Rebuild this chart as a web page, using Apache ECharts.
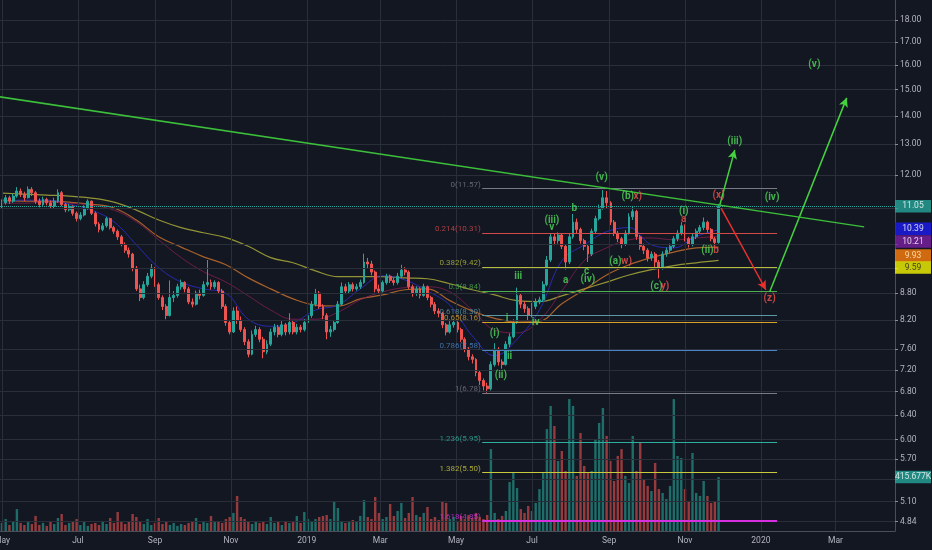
<!DOCTYPE html>
<html><head><meta charset="utf-8">
<script src="https://cdn.jsdelivr.net/npm/echarts@6/dist/echarts.min.js"></script>
<style>html,body{margin:0;padding:0;background:#131722;}#c{width:932px;height:550px;}</style>
</head><body><div id="c"></div>
<script>
// ---------- DATA ----------
const startDate = '2018-05-01';
const stepDays = 3;
// [open, close, low, high]
const ohlc = [
[11.05,11.15,10.98,11.25],[11.15,11.30,11.10,11.38],[11.30,11.20,11.12,11.36],[11.20,11.35,11.15,11.42],[11.35,11.50,11.30,11.62],
[11.50,11.40,11.32,11.58],[11.40,11.30,11.20,11.48],[11.30,11.55,11.28,11.64],[11.55,11.45,11.35,11.62],[11.45,11.20,11.12,11.50],
[11.20,11.10,11.02,11.28],[11.10,11.25,11.05,11.33],[11.25,11.15,11.08,11.30],[11.15,11.05,10.98,11.22],[11.05,11.20,11.00,11.30],
[11.20,11.45,11.15,11.55],[11.45,11.10,11.05,11.50],[11.10,10.95,10.88,11.15],[10.95,11.05,10.90,11.12],[11.05,10.85,10.78,11.08],
[10.85,10.70,10.62,10.90],[10.70,10.80,10.65,10.88],[10.80,11.00,10.76,11.08],[11.00,11.20,10.95,11.25],[11.20,10.85,10.80,11.22],
[10.85,10.55,10.48,10.90],[10.55,10.40,10.32,10.60],[10.40,10.50,10.35,10.58],[10.50,10.70,10.45,10.75],[10.70,10.45,10.40,10.72],
[10.45,10.35,10.28,10.50],[10.35,10.20,10.12,10.40],[10.20,10.00,9.95,10.25],[10.00,9.85,9.78,10.05],[9.85,9.75,9.66,9.92],
[9.75,9.40,9.32,9.78],[9.40,8.90,8.85,9.45],[8.90,8.70,8.62,9.00],[8.70,9.00,8.66,9.08],[9.00,9.20,8.95,9.28],
[9.20,9.40,9.15,9.50],[9.40,9.00,8.95,9.42],[9.00,8.70,8.65,9.05],[8.70,8.50,8.42,8.75],[8.50,8.30,8.22,8.55],
[8.30,8.70,8.28,9.10],[8.70,8.75,8.60,8.85],[8.75,8.95,8.70,9.02],[8.95,9.05,8.88,9.12],[9.05,8.90,8.82,9.08],
[8.90,8.60,8.55,8.95],[8.60,8.55,8.48,8.68],[8.55,8.80,8.52,8.86],[8.80,8.75,8.66,8.88],[8.75,9.00,8.72,9.08],
[9.00,9.05,8.95,9.60],[9.05,8.95,8.88,9.12],[8.95,9.05,8.90,9.10],[9.05,8.85,8.78,9.08],[8.85,8.50,8.45,8.90],
[8.50,8.15,8.08,8.55],[8.15,7.95,7.90,8.20],[7.95,8.40,7.93,8.48],[8.40,8.20,8.12,8.50],[8.20,8.00,7.95,8.28],
[8.00,7.75,7.68,8.05],[7.75,7.50,7.44,7.80],[7.50,7.90,7.48,7.98],[7.90,8.00,7.85,8.08],[8.00,7.80,7.74,8.05],
[7.80,7.55,7.42,7.85],[7.55,7.70,7.50,7.78],[7.70,7.95,7.66,8.02],[7.95,8.05,7.88,8.12],[8.05,7.90,7.84,8.10],
[7.90,8.10,7.86,8.18],[8.10,7.95,7.88,8.14],[7.95,8.15,7.90,8.35],[8.15,7.95,7.90,8.20],[7.95,8.05,7.90,8.12],
[8.05,8.00,7.94,8.10],[8.00,8.15,7.96,8.22],[8.15,8.30,8.10,8.38],[8.30,8.55,8.25,8.62],[8.55,8.80,8.50,8.90],
[8.80,8.50,8.45,8.85],[8.50,8.30,8.22,8.55],[8.30,7.95,7.80,8.35],[7.95,8.00,7.85,8.08],[8.00,8.15,7.96,8.20],
[8.15,8.55,8.12,8.62],[8.55,8.95,8.52,9.05],[8.95,8.85,8.78,9.02],[8.85,9.00,8.80,9.06],[9.00,8.90,8.84,9.05],
[8.90,8.95,8.86,9.02],[8.95,9.05,8.90,9.12],[9.05,9.55,9.02,9.76],[9.55,9.50,9.38,9.65],[9.50,9.30,9.22,9.58],
[9.30,8.90,8.82,9.34],[8.90,8.85,8.78,9.00],[8.85,9.05,8.82,9.10],[9.05,9.20,9.00,9.26],[9.20,9.10,9.04,9.24],
[9.10,9.05,8.98,9.16],[9.05,9.20,9.00,9.28],[9.20,9.35,9.15,9.48],[9.35,9.30,9.22,9.42],[9.30,8.95,8.90,9.34],
[8.95,8.80,8.72,9.00],[8.80,8.90,8.74,8.96],[8.90,8.75,8.68,8.94],[8.75,8.95,8.72,9.02],[8.95,8.70,8.64,8.98],
[8.70,8.55,8.48,8.74],[8.55,8.40,8.33,8.60],[8.40,8.35,8.26,8.46],[8.35,8.10,8.03,8.38],[8.10,7.95,7.88,8.14],
[7.95,8.10,7.92,8.18],[8.10,8.15,8.04,8.22],[8.15,8.00,7.94,8.18],[8.00,7.80,7.74,8.04],[7.80,7.60,7.54,7.84],
[7.60,7.45,7.38,7.64],[7.45,7.40,7.32,7.50],[7.40,7.15,7.08,7.42],[7.15,7.00,6.92,7.18],[7.00,6.90,6.82,7.04],
[6.90,6.85,6.78,6.96],[6.85,7.30,6.82,7.36],[7.30,7.60,7.26,7.72],[7.60,7.35,7.28,7.64],[7.35,7.30,7.22,7.40],
[7.30,7.70,7.28,7.76],[7.70,7.85,7.64,7.92],[7.85,8.15,7.82,8.22],[8.15,8.75,8.12,8.93],[8.75,8.55,8.46,8.80],
[8.55,8.45,8.36,8.62],[8.45,8.30,8.20,8.50],[8.30,8.50,8.26,8.58],[8.50,8.60,8.44,8.68],[8.60,8.65,8.55,8.72],
[8.65,9.00,8.60,9.08],[9.00,9.60,8.96,9.70],[9.60,10.20,9.55,10.30],[10.20,10.10,9.98,10.28],[10.10,10.25,10.02,10.32],
[10.25,9.95,9.88,10.28],[9.95,9.55,9.36,10.00],[9.55,10.20,9.50,10.28],[10.20,10.60,10.15,10.83],[10.60,10.40,10.30,10.70],
[10.40,10.10,10.02,10.45],[10.10,9.95,9.85,10.15],[9.95,9.75,9.55,10.00],[9.75,10.35,9.70,10.42],[10.35,10.70,10.30,10.78],
[10.70,11.00,10.65,11.10],[11.00,11.30,10.95,11.53],[11.30,11.15,11.00,11.50],[11.15,10.60,10.52,11.20],[10.60,10.30,10.22,10.66],
[10.30,10.15,10.06,10.36],[10.15,10.00,9.90,10.20],[10.00,10.30,9.96,10.38],[10.30,10.75,10.26,10.85],[10.75,10.90,10.66,11.06],
[10.90,10.20,10.12,10.95],[10.20,9.95,9.86,10.25],[9.95,9.85,9.75,10.02],[9.85,9.65,9.56,9.90],[9.65,9.75,9.58,9.82],
[9.75,9.55,9.40,9.80],[9.55,9.40,9.15,9.60],[9.40,9.75,9.36,9.82],[9.75,9.85,9.68,9.92],[9.85,9.95,9.78,10.02],
[9.95,10.15,9.90,10.22],[10.15,10.30,10.08,10.38],[10.30,10.50,10.24,10.60],[10.50,10.15,10.08,10.54],[10.15,10.00,9.92,10.20],
[10.00,10.20,9.95,10.28],[10.20,10.35,10.14,10.42],[10.35,10.45,10.28,10.52],[10.45,10.60,10.38,10.73],[10.60,10.40,10.32,10.64],
[10.40,10.15,10.08,10.44],[10.15,10.05,9.98,10.20],[10.05,11.05,10.02,11.12]
];
// volume in thousands, one per candle
const volumeK = [
62,92,46,77,169,62,46,69,54,116,
46,62,39,69,54,100,131,46,62,77,
92,46,69,39,54,62,46,69,54,100,
62,146,69,54,77,131,108,69,54,92,
46,62,100,54,69,46,62,39,54,46,
62,69,100,54,69,62,116,69,77,62,
92,108,139,270,108,92,69,54,77,62,
69,54,108,62,69,46,77,62,69,116,
62,146,92,77,92,108,116,123,92,231,
177,77,62,69,85,69,116,239,108,92,
262,139,92,108,208,116,154,216,100,139,
262,123,108,139,185,92,108,85,231,216,
92,108,77,116,92,123,100,139,108,92,
123,631,139,92,116,154,377,454,331,169,
139,193,154,216,323,447,785,963,809,539,
616,462,1016,963,424,755,501,447,462,708,
832,947,732,539,385,578,631,424,370,732,
462,678,400,347,308,524,323,293,246,347,
1016,578,562,323,231,601,293,270,385,270,
216,231,415.677
];
// moving averages sampled every maStep candles
const maStep = 6;
const ma20  = [11.20,11.23,11.23,11.11,10.94,10.61,9.99,9.41,9.06,8.90,8.80,8.22,8.07,8.14,8.42,8.53,8.90,9.21,9.11,8.85,8.53,7.87,7.47,7.80,8.42,9.58,9.99,10.34,10.45,9.99,9.91,10.21,10.39];
const ma50  = [11.14,11.14,11.17,11.14,11.08,10.94,10.61,10.12,9.66,9.31,9.06,8.74,8.42,8.22,8.22,8.37,8.65,8.83,8.93,8.95,8.83,8.42,7.99,7.93,8.20,8.85,9.58,9.91,10.12,10.17,10.12,10.17,10.21];
const ma100 = [11.23,11.20,11.20,11.17,11.11,11.00,10.66,10.20,9.93,9.68,9.48,9.16,8.90,8.67,8.53,8.51,8.67,8.76,8.88,8.90,8.63,8.40,8.24,8.16,8.18,8.56,8.88,9.23,9.48,9.66,9.80,9.91,9.93];
const ma200 = [11.44,11.41,11.38,11.35,11.29,11.17,10.94,10.66,10.45,10.31,10.18,9.95,9.66,9.53,9.33,9.19,9.19,9.19,9.16,9.14,9.02,8.88,8.76,8.63,8.61,8.74,8.90,9.06,9.23,9.36,9.46,9.53,9.59];
// axis ticks
const priceTicks = [18,17,16,15,14,13,12,11,10,9.4,8.8,8.2,7.6,7.2,6.8,6.4,6,5.7,5.4,5.1,4.84];
const hiddenTickLabels = [11,10,9.4,5.4];
const monthTicks = ['2018-05-01','2018-07-01','2018-09-01','2018-11-01','2019-01-01','2019-03-01','2019-05-01','2019-07-01','2019-09-01','2019-11-01','2020-01-01','2020-03-01'];
// fibonacci retracement
const fibLevels = ['0','0.214','0.382','0.5','0.618','0.65','0.786','1','1.236','1.382','1.618'];
const fibPrices = [11.57,10.31,9.42,8.84,8.30,8.16,7.58,6.78,5.95,5.50,4.85];
const fibRange = ['2019-05-22','2020-01-14'];
// drawings
const trendLine = [['2018-04-25',14.75],['2020-03-24',10.47]];
const arrows = [
  [['2019-11-29',11.09],['2019-12-11',12.81]],
  [['2019-11-30',11.00],['2020-01-05',8.88]],
  [['2020-01-08',8.83],['2020-03-10',14.68]]
];
const greenLabels = [
  ['2019-08-26',11.93,'(v)'],['2019-09-16',11.35,'(b)'],['2019-08-04',11.00,'b'],
  ['2019-07-17',10.66,'(iii)'],['2019-07-17',10.45,'v'],['2019-10-31',10.90,'(i)'],
  ['2019-11-19',9.83,'(ii)'],['2019-09-06',9.55,'(a)'],['2019-07-28',9.09,'a'],
  ['2019-08-14',9.31,'c'],['2019-08-15',9.11,'(iv)'],['2019-10-09',8.95,'(c)'],
  ['2019-06-20',9.19,'iii'],['2019-06-11',8.23,'i'],['2019-07-04',8.14,'iv'],
  ['2019-06-01',7.91,'(i)'],['2019-06-13',7.45,'ii'],['2019-06-06',7.09,'(ii)'],
  ['2019-12-11',13.11,'(iii)'],['2020-01-10',11.32,'(iv)'],['2020-02-13',16.00,'(v)']
];
const redLabels = [
  ['2019-09-24',11.35,'x)'],['2019-11-28',11.38,'(x)'],['2019-10-31',10.68,'a'],
  ['2019-11-26',9.83,'b'],['2019-09-15',9.55,'w)'],['2019-10-16',8.95,'y)'],['2020-01-08',8.69,'(z)']
];
const priceTags = [11.05,10.39,10.21,9.93,9.59];
const volumeTag = 415.677;

// ---------- STYLE ----------
const FONT = 'Roboto, "Noto Sans", sans-serif';
const UP = '#26a69a', DN = '#ef5350';
const GREEN = '#4fd95a', RED = '#f0524d';
const fibColors = ['#787b86','#d24a4a','#b7bd3c','#4caf50','#5b98a6','#d6a22a','#4a84c4','#787b86','#2eae9e','#c9c93c','#d52fe0'];
const tagBg = ['#26a69a','#1c1cf0','#7b1fa2','#ff7f0e','#f5f500'];
const tagFg = ['#ffffff','#ffffff','#ffffff','#fff3c0','#222222'];
const tagDy = [0,-1,5,8.5,7];
const arrowColors = ['#45d33f','#e8312e','#45d33f'];
const MONTHS = ['Jan','Feb','Mar','Apr','May','Jun','Jul','Aug','Sep','Oct','Nov','Dec'];

const DAY = 86400000;
const t = s => Date.parse(s);
const t0 = t(startDate);
const candleTime = i => t0 + i * stepDays * DAY;
const xMin = Date.parse('2018-04-29T10:00:00Z');
const xMax = Date.parse('2020-04-17T19:00:00Z');

const candleData = ohlc.map((r,i)=>[candleTime(i), r[0], r[1], r[2], r[3]]);
const volData = volumeK.map((v,i)=>({value:[candleTime(i), v],
  itemStyle:{color: ohlc[i][1] >= ohlc[i][0] ? 'rgba(38,166,154,0.6)' : 'rgba(239,83,80,0.6)'}}));
const maData = arr => arr.map((v,k)=>[candleTime(k*maStep), v]);
const maSeries = (name, arr, color, w) => ({type:'line', name, data: maData(arr), smooth:0.4, showSymbol:false, silent:true,
  lineStyle:{color, width:w}, z:3});

const gridLineData = priceTicks.map(v=>({yAxis:v})).concat(monthTicks.map(d=>({xAxis:t(d)})));

const fibLineData = fibPrices.map((p,k)=>[
  {coord:[t(fibRange[0]), p], lineStyle:{color:fibColors[k], width: k===10?2:1, type:'solid'}},
  {coord:[t(fibRange[1]), p]}
]);
const fibLabelData = fibPrices.map((p,k)=>({value:[t(fibRange[0]), p], name: fibLevels[k]+'('+p.toFixed(2)+')',
  label:{color:fibColors[k]}}));

const arrowData = arrows.map((a,k)=>[
  {coord:[t(a[0][0]), a[0][1]], symbol:'none', lineStyle:{color:arrowColors[k], width:1.5, type:'solid'}},
  {coord:[t(a[1][0]), a[1][1]], symbol:'arrow', symbolSize:[7,9], itemStyle:{color:arrowColors[k]}}
]);

const labelSeries = (arr, color) => ({type:'scatter', silent:true, symbolSize:1, itemStyle:{color:'rgba(0,0,0,0)'}, z:8, clip:false,
  data: arr.map(a=>({value:[t(a[0]), a[1]], name:a[2]})),
  label:{show:true, position:'inside', formatter:'{b}', color, fontSize:10, fontWeight:'bold', fontFamily:FONT}});

const tagData = priceTags.map((v,k)=>({value:[xMax, v], symbolOffset:[18, tagDy[k]], itemStyle:{color:tagBg[k]},
  label:{show:true, position:'inside', formatter: v.toFixed(2), color: tagFg[k], fontSize:8.5, fontFamily:FONT}}));

const chart = echarts.init(document.getElementById('c'), null, {renderer:'canvas', width:932, height:550});
chart.setOption({
  backgroundColor:'#131722',
  animation:false,
  textStyle:{fontFamily:FONT},
  grid:{left:0, right:37, top:0, bottom:19, containLabel:false, outerBoundsMode:'none'},
  xAxis:{type:'value', min:xMin, max:xMax, splitLine:{show:false},
    axisLine:{show:true, lineStyle:{color:'#4a4e59'}}, axisTick:{show:false},
    axisLabel:{customValues: monthTicks.map(t), color:'#b2b5be', fontSize:8.5, margin:5, fontFamily:FONT,
      formatter: v => { const d = new Date(v); return d.getUTCMonth()===0 ? String(d.getUTCFullYear()) : MONTHS[d.getUTCMonth()]; }}},
  yAxis:[
    {type:'log', logBase:10, min:4.72, max:18.97, position:'right', splitLine:{show:false},
      axisLine:{show:true, lineStyle:{color:'#4a4e59'}},
      axisTick:{show:true, length:3, inside:false, customValues: priceTicks, lineStyle:{color:'#8a8d96'}},
      axisLabel:{customValues: priceTicks, color:'#b2b5be', fontSize:8.5, margin:5, fontFamily:FONT,
        formatter: v => hiddenTickLabels.some(h=>Math.abs(h-v)<1e-6) ? '' : Number(v).toFixed(2)}},
    {type:'value', min:0, max:4089, show:false, position:'right', splitLine:{show:false}}
  ],
  series:[
    {type:'line', name:'grid', data:[[xMin,10]], showSymbol:false, symbol:'none', silent:true, lineStyle:{opacity:0}, z:1,
      markLine:{silent:true, symbol:['none','none'], animation:false, label:{show:false},
        lineStyle:{color:'#2a2e39', width:1, type:'solid'}, data: gridLineData}},
    {type:'bar', name:'volume', xAxisIndex:0, yAxisIndex:1, data: volData, barWidth:2.4, silent:true, z:2},
    maSeries('ma200', ma200, 'rgba(190,190,60,0.75)', 1.2),
    maSeries('ma100', ma100, 'rgba(205,115,45,0.8)', 1.2),
    maSeries('ma50', ma50, 'rgba(130,30,80,0.8)', 1),
    maSeries('ma20', ma20, 'rgba(45,45,200,0.85)', 1),
    {type:'candlestick', name:'price', data: candleData, encode:{x:0, y:[1,2,3,4]}, barWidth:2.4, silent:true, z:4,
      itemStyle:{color:UP, color0:DN, borderColor:UP, borderColor0:DN, borderWidth:1},
      markLine:{silent:true, symbol:['none','none'], animation:false, label:{show:false},
        lineStyle:{color:UP, width:1, type:'dotted'}, data:[{yAxis: priceTags[0]}]}},
    {type:'scatter', name:'fib', data: fibLabelData, symbolSize:1, itemStyle:{color:'rgba(0,0,0,0)'}, silent:true, clip:false, z:5,
      label:{show:true, position:'left', distance:1, offset:[0,-4], formatter:'{b}', fontSize:8, fontFamily:FONT},
      markLine:{silent:true, symbol:['none','none'], animation:false, label:{show:false}, data: fibLineData}},
    {type:'line', name:'trend', data: trendLine.map(p=>[t(p[0]), p[1]]), showSymbol:false, symbol:'none', silent:true, z:6,
      lineStyle:{color:'#3cbf3a', width:1.5},
      markLine:{silent:true, animation:false, label:{show:false}, data: arrowData}},
    labelSeries(redLabels, RED),
    labelSeries(greenLabels, GREEN),
    {type:'scatter', name:'tags', data: tagData, symbol:'rect', symbolSize:[36,12.5], clip:false, silent:true, z:9},
    {type:'scatter', name:'voltag', yAxisIndex:1, clip:false, silent:true, z:9, symbol:'rect', symbolSize:[36,12.5],
      data:[{value:[xMax, volumeTag], symbolOffset:[18,0], itemStyle:{color:UP},
        label:{show:true, position:'inside', formatter: volumeTag + 'K', color:'#ffffff', fontSize:8.5, fontFamily:FONT}}]}
  ]
});
</script>
</body></html>
